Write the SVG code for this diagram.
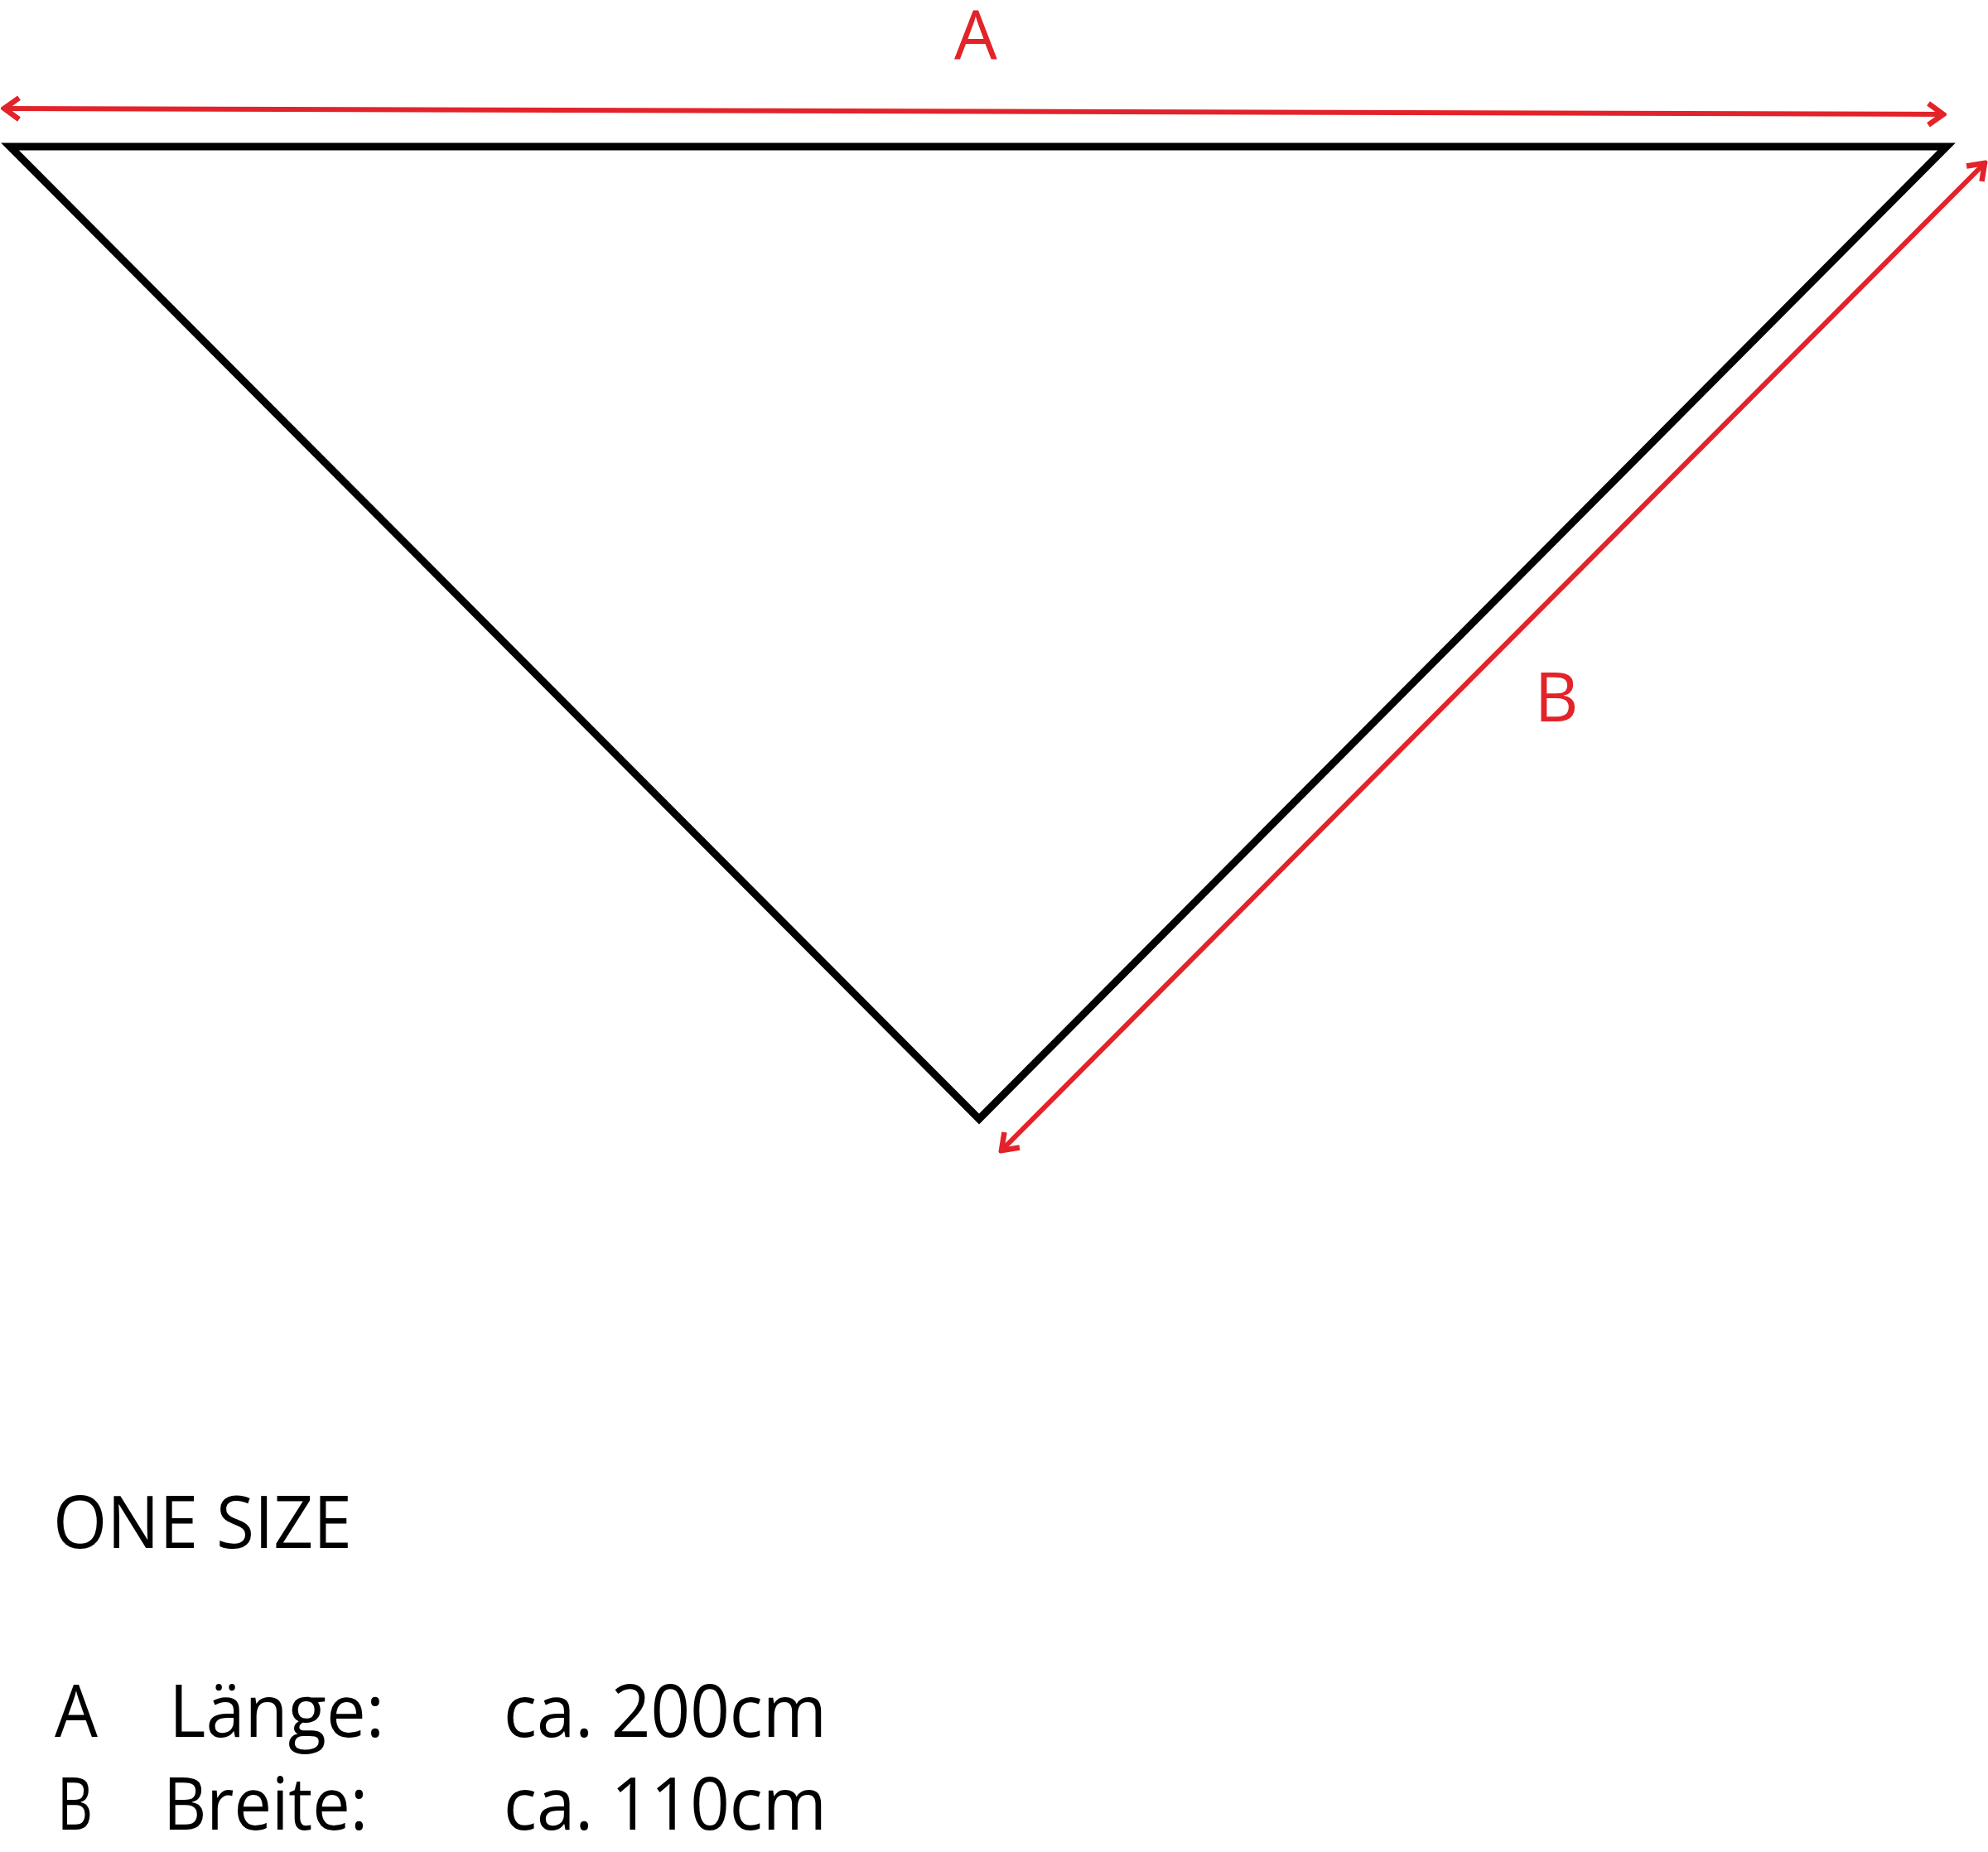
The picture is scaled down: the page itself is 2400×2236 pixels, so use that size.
<svg xmlns="http://www.w3.org/2000/svg" width="2400" height="2236" viewBox="0 0 2400 2236">
<style>
.red{stroke:#e2232a;stroke-width:6;fill:none}
.rt{fill:#e2232a;font-family:"Open Sans","Liberation Sans",sans-serif;font-size:82px}
.bt{fill:#000;font-family:"Open Sans","Liberation Sans",sans-serif;font-size:88px}
</style>
<defs>
<marker id="ah" markerUnits="userSpaceOnUse" viewBox="-26 -18 30 36" refX="0" refY="0" markerWidth="30" markerHeight="36" orient="auto-start-reverse">
<path d="M-18,-13 L0,0 L-18,13" stroke="#e2232a" stroke-width="6.5" fill="none" stroke-linejoin="miter" stroke-miterlimit="10"/>
</marker>
</defs>
<rect width="2400" height="2236" fill="#fff"/>
<g id="shape">
<polygon points="12,177 2350,177 1182,1351" fill="none" stroke="#000" stroke-width="9" stroke-linejoin="miter" stroke-miterlimit="10"/>
</g>
<g id="connectors">
<line class="red" x1="5" y1="131" x2="2346" y2="138" marker-start="url(#ah)" marker-end="url(#ah)"/>
<line class="red" x1="2396" y1="197" x2="1209" y2="1389" marker-start="url(#ah)" marker-end="url(#ah)"/>
</g>
<g id="labels">
<text class="rt" x="1178" y="72" text-anchor="middle">A</text>
<text class="rt" x="1879" y="871" text-anchor="middle">B</text>
</g>
<g id="legend">
<text class="bt" x="64" y="1869" font-size="90" textLength="361" lengthAdjust="spacingAndGlyphs">ONE SIZE</text>
<text class="bt" x="66" y="2097" textLength="52" lengthAdjust="spacingAndGlyphs">A</text>
<text class="bt" x="204" y="2097" textLength="260" lengthAdjust="spacingAndGlyphs">Länge:</text>
<text class="bt" x="608" y="2097" textLength="390" lengthAdjust="spacingAndGlyphs">ca. 200cm</text>
<text class="bt" x="69" y="2209" textLength="43" lengthAdjust="spacingAndGlyphs">B</text>
<text class="bt" x="197" y="2209" textLength="247" lengthAdjust="spacingAndGlyphs">Breite:</text>
<text class="bt" x="608" y="2209" textLength="390" lengthAdjust="spacingAndGlyphs">ca. 110cm</text>
</g>
</svg>
